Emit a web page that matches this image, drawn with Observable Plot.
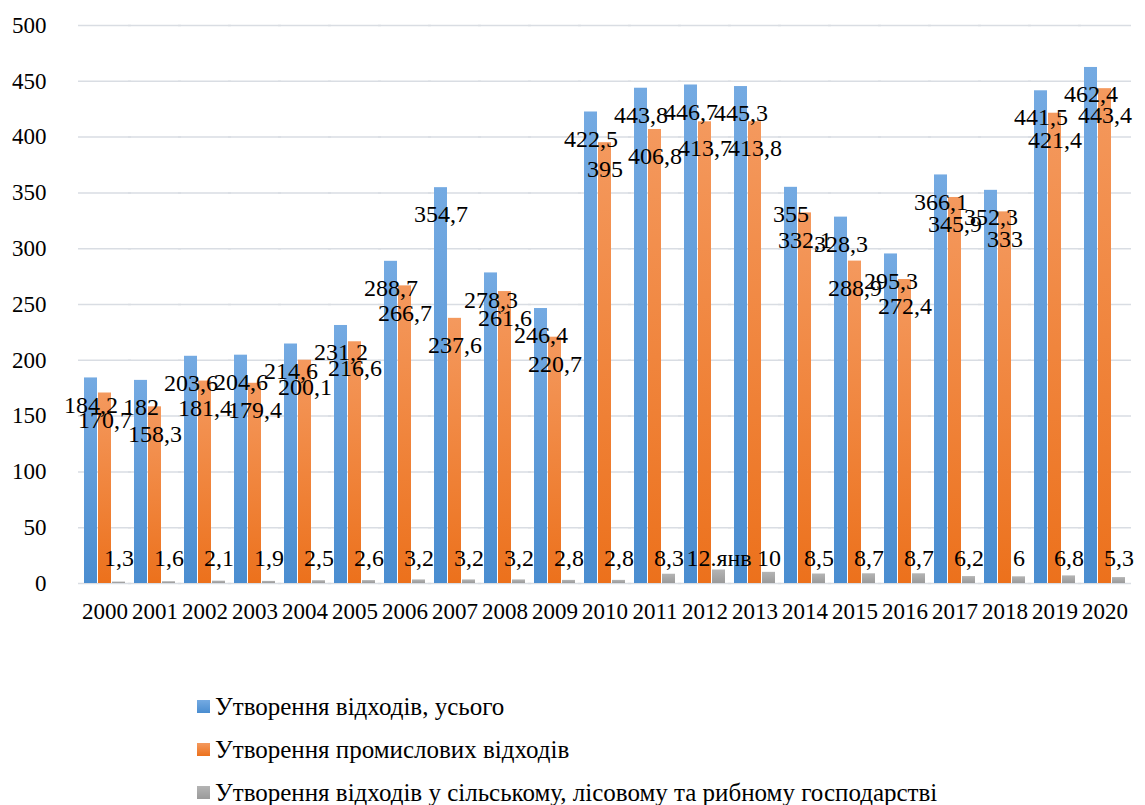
<!DOCTYPE html>
<html>
<head>
<meta charset="utf-8">
<script src="https://cdn.jsdelivr.net/npm/d3@7"></script>
<script src="https://cdn.jsdelivr.net/npm/@observablehq/plot@0.6"></script>
<style>
  html, body { margin: 0; padding: 0; background: #fff; }
  #chart { width: 1145px; }
  .legend { font-family: "Liberation Serif", "Times New Roman", Times, "DejaVu Serif", serif; font-size: 25px; color: #000; padding-left: 197px; margin-top: 55px; }
  .legend .item { height: 43px; display: flex; align-items: center; }
  .legend .sw { width: 13px; height: 13px; margin-right: 5px; }
  #chart svg text { font-family: "Liberation Serif", "Times New Roman", Times, "DejaVu Serif", serif; }
</style>
</head>
<body>
<div id="chart"></div>
<script>
const years = [2000, 2001, 2002, 2003, 2004, 2005, 2006, 2007, 2008, 2009, 2010,
  2011, 2012, 2013, 2014, 2015, 2016, 2017, 2018, 2019, 2020];
const seriesNames = [
  "Утворення відходів, усього",
  "Утворення промислових відходів",
  "Утворення відходів у сільському, лісовому та рибному господарстві"
];
const totalWaste = [184.2, 182, 203.6, 204.6, 214.6, 231.2, 288.7, 354.7, 278.3, 246.4, 422.5,
  443.8, 446.7, 445.3, 355, 328.3, 295.3, 366.1, 352.3, 441.5, 462.4];
const industrialWaste = [170.7, 158.3, 181.4, 179.4, 200.1, 216.6, 266.7, 237.6, 261.6, 220.7, 395,
  406.8, 413.7, 413.8, 332.1, 288.9, 272.4, 345.9, 333, 421.4, 443.4];
const agriWaste = [1.3, 1.6, 2.1, 1.9, 2.5, 2.6, 3.2, 3.2, 3.2, 2.8, 2.8,
  8.3, 12.1, 10, 8.5, 8.7, 8.7, 6.2, 6, 6.8, 5.3];
const agriLabelOverrides = {2012: "12.янв"};
const yTicks = [0, 50, 100, 150, 200, 250, 300, 350, 400, 450, 500];

const gradients = [
  {id: "gTotal", top: "#74aae2", bottom: "#4a8dd0"},
  {id: "gInd", top: "#f4995e", bottom: "#ec711c"},
  {id: "gAgri", top: "#b4b4b4", bottom: "#9a9a9a"}
];

const fmt = v => String(v).replace(".", ",");
const rows = [];
years.forEach((yr, i) => {
  rows.push({year: yr, series: seriesNames[0], value: totalWaste[i], label: fmt(totalWaste[i])});
  rows.push({year: yr, series: seriesNames[1], value: industrialWaste[i], label: fmt(industrialWaste[i])});
  rows.push({year: yr, series: seriesNames[2], value: agriWaste[i], label: agriLabelOverrides[yr] ?? fmt(agriWaste[i])});
});

const font = "'Liberation Serif', 'Times New Roman', Times, 'DejaVu Serif', serif";

const chart = Plot.plot({
  width: 1145,
  height: 630,
  marginLeft: 70,
  marginRight: 7,
  marginTop: 25,
  marginBottom: 47,
  style: {fontFamily: font, fontSize: "23px", color: "#000", background: "#fff", overflow: "visible"},
  fx: {domain: years, paddingInner: 0.19, paddingOuter: 0.095, label: null, tickSize: 0, tickPadding: 19, tickFormat: d => String(d)},
  x: {domain: seriesNames, axis: null, paddingInner: 0.1, paddingOuter: 0},
  y: {domain: [0, 500], ticks: yTicks, tickSize: 0, tickPadding: 38, label: null},
  marks: [
    Plot.ruleY(yTicks, {stroke: "#d9dde3", strokeWidth: 1.5, insetLeft: -6, insetRight: -6}),
    Plot.barY(rows, {filter: d => d.series === seriesNames[0], fx: "year", x: "series", y: "value", fill: "url(#gTotal)"}),
    Plot.barY(rows, {filter: d => d.series === seriesNames[1], fx: "year", x: "series", y: "value", fill: "url(#gInd)"}),
    Plot.barY(rows, {filter: d => d.series === seriesNames[2], fx: "year", x: "series", y: "value", fill: "url(#gAgri)"}),
    Plot.text(rows, {filter: d => d.series !== seriesNames[2], fx: "year", x: "series", y: "value", text: "label", dy: 27, fontSize: 24, fill: "#000"}),
    Plot.text(rows, {filter: d => d.series === seriesNames[2], fx: "year", x: "series", y: d => 0, text: "label", dy: -25, fontSize: 24, fill: "#000"})
  ]
});

const defs = d3.select(chart).insert("defs", ":first-child");
gradients.forEach(g => {
  const lg = defs.append("linearGradient").attr("id", g.id).attr("x1", 0).attr("y1", 0).attr("x2", 0).attr("y2", 1);
  lg.append("stop").attr("offset", "0%").attr("stop-color", g.top);
  lg.append("stop").attr("offset", "100%").attr("stop-color", g.bottom);
});

document.getElementById("chart").appendChild(chart);

const legend = d3.select("#chart").append("div").attr("class", "legend");
seriesNames.forEach((name, i) => {
  const item = legend.append("div").attr("class", "item");
  item.append("div").attr("class", "sw")
    .style("background", `linear-gradient(to bottom, ${gradients[i].top}, ${gradients[i].bottom})`);
  item.append("span").text(name);
});
</script>
</body>
</html>
